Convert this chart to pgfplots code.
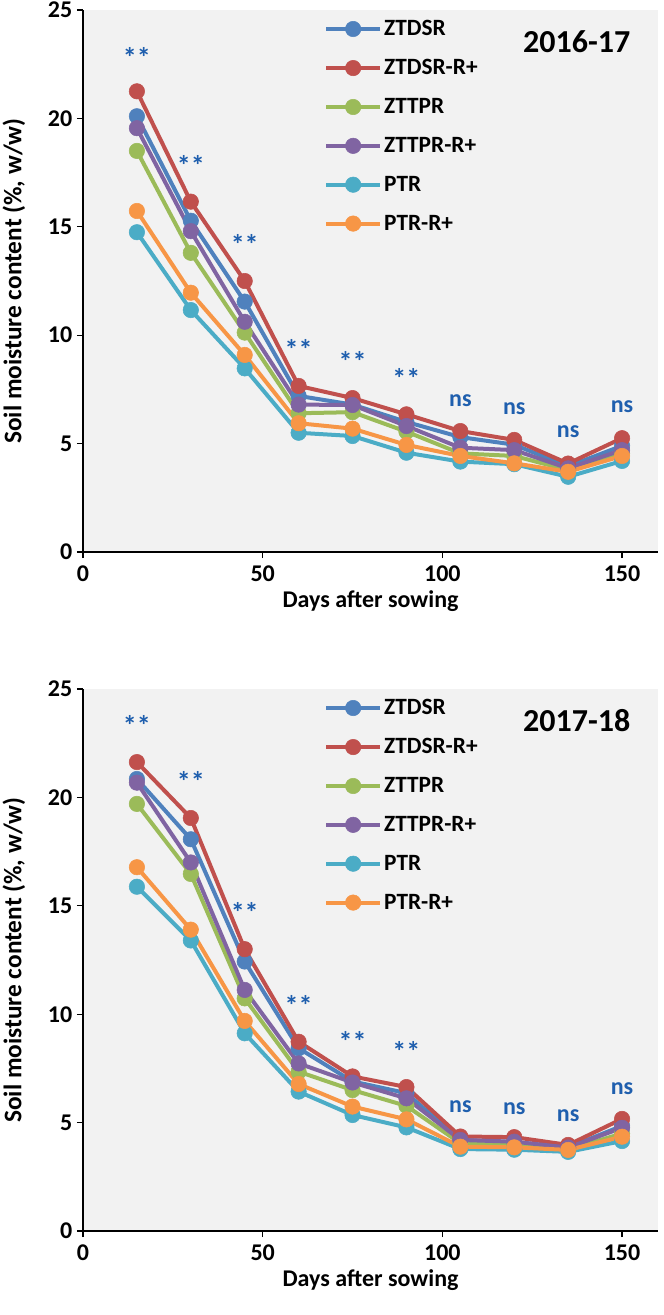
\documentclass[border=0pt]{standalone}
\usepackage{fontspec}
\setmainfont{Carlito}
\usepackage{pgfplots}
\usepackage{pgfplotstable}
\pgfplotsset{compat=1.18}

\definecolor{cBlue}{HTML}{4F81BD}
\definecolor{cRed}{HTML}{C0504D}
\definecolor{cGreen}{HTML}{9BBB59}
\definecolor{cPurple}{HTML}{8064A2}
\definecolor{cCyan}{HTML}{4BACC6}
\definecolor{cOrange}{HTML}{F79646}
\definecolor{bgGray}{HTML}{F2F2F2}
\definecolor{annBlue}{HTML}{1F5FAE}

% soil moisture, 2016-17
\pgfplotstableread{
x   ztdsr ztdsrr zttpr zttprr ptr   ptrr
15  20.10 21.25  18.50 19.55  14.75 15.73
30  15.28 16.16  13.80 14.80  11.16 11.96
45  11.55 12.50  10.12 10.62  8.47  9.09
60  7.20  7.66   6.40  6.80   5.50  5.94
75  6.80  7.10   6.45  6.78   5.35  5.69
90  6.00  6.35   5.55  5.81   4.58  4.94
105 5.30  5.58   4.55  4.81   4.17  4.43
120 4.95  5.17   4.43  4.70   4.05  4.09
135 3.95  4.08   3.78  3.86   3.47  3.70
150 4.90  5.25   4.55  4.70   4.20  4.43
}\yrA

% soil moisture, 2017-18
\pgfplotstableread{
x   ztdsr ztdsrr zttpr zttprr ptr   ptrr
15  20.85 21.63  19.70 20.68  15.88 16.78
30  18.07 19.05  16.47 17.00  13.40 13.90
45  12.43 13.00  10.73 11.12  9.12  9.69
60  8.43  8.73   7.35  7.73   6.43  6.78
75  6.90  7.13   6.50  6.85   5.35  5.74
90  6.36  6.64   5.77  6.12   4.78  5.15
105 4.20  4.36   4.05  4.20   3.78  3.89
120 4.10  4.33   3.95  4.12   3.75  3.86
135 3.85  3.97   3.75  3.85   3.65  3.74
150 4.85  5.17   4.50  4.76   4.15  4.35
}\yrB

\newcommand\fs{\bfseries\fontsize{18}{18}\selectfont}

\pgfplotsset{
  smc/.style={
    scale only axis, width=431.25pt, height=406.5pt,
    xmin=0, xmax=160, ymin=0, ymax=25,
    xtick={0,50,100,150}, ytick={0,5,...,25},
    axis x line*=bottom, axis y line*=left,
    axis line style={line width=1.1pt, black},
    tick align=outside, major tick length=4.5pt,
    major tick style={line width=1pt, black},
    axis background/.style={fill=bgGray},
    /pgf/number format/assume math mode=true,
    ticklabel style={font=\fs},
    xticklabel style={yshift=-2pt},
    label style={font=\fs},
    ylabel style={font=\bfseries\fontsize{19}{19}\selectfont},
    xlabel={Days after sowing},
    ylabel={Soil moisture content (\%, w/w)},
    xlabel style={at={(axis description cs:0.5,-0.09)}, anchor=center},
    ylabel style={at={(axis description cs:-0.12,0.5)}, anchor=center},
    legend cell align=left,
    legend style={at={(0.412,0.99)}, anchor=north west, draw=none, fill=none,
      font=\bfseries\fontsize{17.5}{17.5}\selectfont, row sep=13.3pt,
      nodes={inner sep=1.5pt}},
    legend image code/.code={\draw[mark repeat=2,mark phase=2,##1]
      plot coordinates {(0pt,0pt) (20.25pt,0pt) (40.5pt,0pt)};},
  },
  ser/.style={color=#1, line width=3pt, mark=*, mark size=5.8pt,
    mark options={line width=0.4pt, fill=#1, draw=#1}},
  ann/.style={forget plot, draw=none, mark=none, nodes near coords,
    point meta=explicit symbolic,
    nodes near coords style={anchor=center, text=annBlue, font=#1}},
}

\begin{document}
\begin{tikzpicture}
\useasboundingbox (-62.25pt,-978.75pt) rectangle (435.75pt,7.5pt);

\begin{axis}[smc, at={(0pt,0pt)}, anchor=north west]
\addplot[ser=cBlue]   table[x=x,y=ztdsr]  {\yrA};
\addplot[ser=cRed]    table[x=x,y=ztdsrr] {\yrA};
\addplot[ser=cGreen]  table[x=x,y=zttpr]  {\yrA};
\addplot[ser=cPurple] table[x=x,y=zttprr] {\yrA};
\addplot[ser=cCyan]   table[x=x,y=ptr]    {\yrA};
\addplot[ser=cOrange] table[x=x,y=ptrr]   {\yrA};
\legend{ZTDSR, ZTDSR-R+, ZTTPR, ZTTPR-R+, PTR, PTR-R+}
\addplot[ann=\bfseries\fontsize{21}{21}\selectfont] coordinates {
  (15,22.8) [**] (30,17.85) [**] (45,14.2) [**] (60,9.36) [**] (75,8.78) [**]
  (90,8.0) [**]
};
\addplot[ann=\fs] coordinates {
  (105,7.0) [ns] (120,6.63) [ns] (135,5.55) [ns] (150,6.7) [ns]
};
\node[font=\bfseries\fontsize{24}{24}\selectfont] at (rel axis cs:0.8586,0.9415) {2016-17};
\end{axis}

\begin{axis}[smc, at={(0pt,-509.25pt)}, anchor=north west]
\addplot[ser=cBlue]   table[x=x,y=ztdsr]  {\yrB};
\addplot[ser=cRed]    table[x=x,y=ztdsrr] {\yrB};
\addplot[ser=cGreen]  table[x=x,y=zttpr]  {\yrB};
\addplot[ser=cPurple] table[x=x,y=zttprr] {\yrB};
\addplot[ser=cCyan]   table[x=x,y=ptr]    {\yrB};
\addplot[ser=cOrange] table[x=x,y=ptrr]   {\yrB};
\legend{ZTDSR, ZTDSR-R+, ZTTPR, ZTTPR-R+, PTR, PTR-R+}
\addplot[ann=\bfseries\fontsize{21}{21}\selectfont] coordinates {
  (15,23.34) [**] (30,20.72) [**] (45,14.68) [**] (60,10.42) [**] (75,8.73) [**]
  (90,8.27) [**]
};
\addplot[ann=\fs] coordinates {
  (105,5.75) [ns] (120,5.66) [ns] (135,5.33) [ns] (150,6.55) [ns]
};
\node[font=\bfseries\fontsize{24}{24}\selectfont] at (rel axis cs:0.8586,0.9415) {2017-18};
\end{axis}
\end{tikzpicture}
\end{document}
